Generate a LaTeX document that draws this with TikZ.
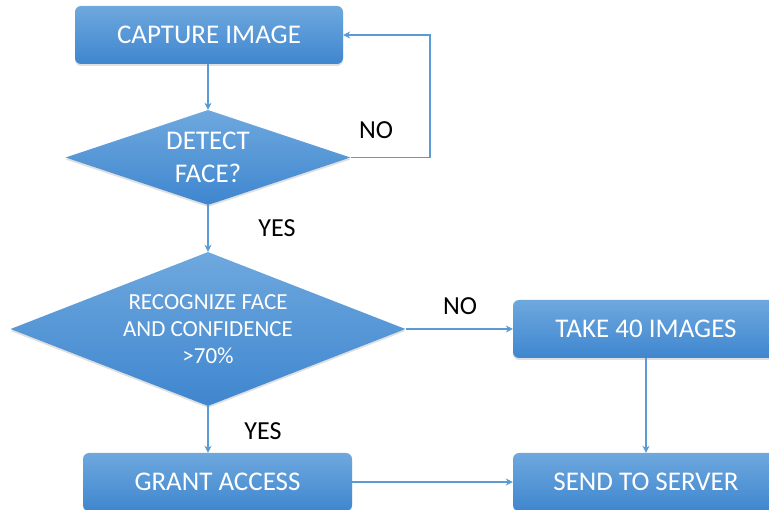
\documentclass[tikz,border=0pt]{standalone}
\usepackage{fontspec}
\setmainfont{Carlito}
\usetikzlibrary{shapes.geometric,arrows.meta,shadows}
\definecolor{boxtop}{HTML}{6EA8DE}
\definecolor{boxbot}{HTML}{3F86CF}
\definecolor{flow}{HTML}{5B9BD5}
\tikzset{
  procbox/.style={rectangle, rounded corners=6pt, top color=boxtop, bottom color=boxbot,
    draw=none, text=white, font=\fontsize{27}{30}\selectfont,
    drop shadow={shadow xshift=0pt, shadow yshift=-2pt, opacity=0.25}},
  decision/.style={diamond, inner sep=0pt, top color=boxtop, bottom color=boxbot,
    draw=none,
    drop shadow={shadow xshift=0pt, shadow yshift=-2pt, opacity=0.25}},
  decisiontext/.style={text=white, align=center, inner sep=0pt},
  flowline/.style={draw=flow, line width=1.4pt, -{Stealth[length=7pt,width=7pt]}},
  answer/.style={text=black, font=\fontsize{26}{30}\selectfont}
}
\begin{document}
\begin{tikzpicture}[x=1pt,y=-1pt]
  \useasboundingbox (0,0) rectangle (769,510);
  \clip (0,0) rectangle (769,510);

  % process boxes
  \node[procbox, minimum width=268pt, minimum height=58pt] (capture) at (209,35) {CAPTURE IMAGE};
  \node[procbox, minimum width=269pt, minimum height=58pt] (grant) at (217.5,482) {GRANT ACCESS};
  \node[procbox, minimum width=266pt, minimum height=58pt] (take) at (646,329) {TAKE 40 IMAGES};
  \node[procbox, minimum width=266pt, minimum height=58pt] (send) at (646,482) {SEND TO SERVER};

  % decisions: diamond outline plus centred caption
  \node[decision, minimum width=285pt, minimum height=95pt] (detect) at (208,157.5) {};
  \node[decisiontext, font=\fontsize{27}{33}\selectfont] (detecttext) at (detect.center) {DETECT\\FACE?};
  \node[decision, minimum width=395pt, minimum height=154pt] (recog) at (208,329) {};
  \node[decisiontext, font=\fontsize{23}{27}\selectfont] (recogtext) at (recog.center) {RECOGNIZE FACE\\AND CONFIDENCE\\>70\%};

  % connectors
  \draw[flowline] (capture.south -| detect.north) -- (detect.north);
  \coordinate (loop) at (430,157.5);
  \draw[flowline] (detect.east) -- (loop) |- (capture.east);
  \draw[flowline] (detect.south) -- (recog.north);
  \draw[flowline] (recog.east) -- (take.west);
  \draw[flowline] (recog.south) -- (recog.south |- grant.north);
  \draw[flowline] (take.south) -- (send.north);
  \draw[flowline] (grant.east) -- (send.west);

  % branch labels
  \node[answer] (no1) at (376,130) {NO};
  \node[answer] (yes1) at (277,228) {YES};
  \node[answer] (no2) at (460,306) {NO};
  \node[answer] (yes2) at (263,431) {YES};
\end{tikzpicture}
\end{document}
